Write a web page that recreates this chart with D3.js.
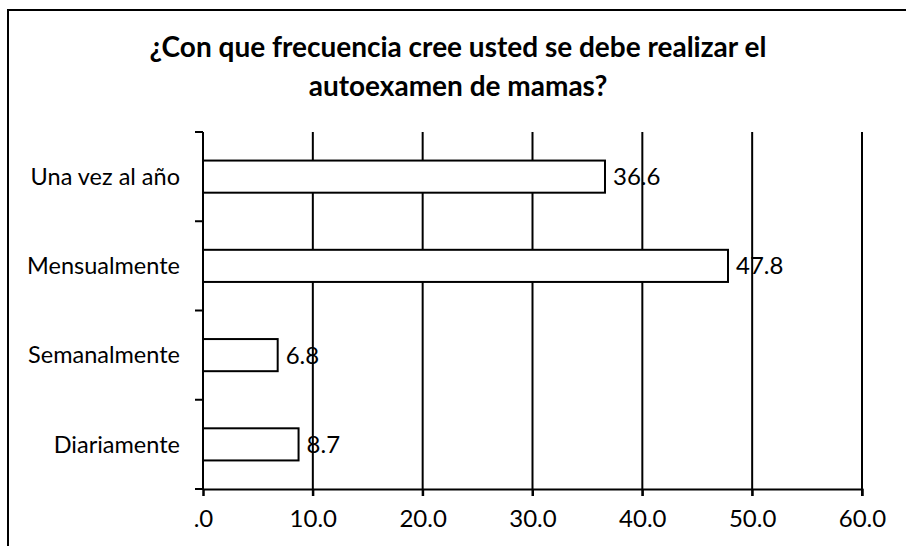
<!DOCTYPE html>
<html>
<head>
<meta charset="utf-8">
<script src="https://cdn.jsdelivr.net/npm/d3@7"></script>
<style>
  body { margin: 0; background: #fff; }
  text { font-family: Lato, "Open Sans", sans-serif; fill: #000; }
</style>
</head>
<body>
<svg id="chart" width="906" height="546"></svg>
<script>
const categories = ['Una vez al año', 'Mensualmente', 'Semanalmente', 'Diariamente']
const values = [36.6, 47.8, 6.8, 8.7]
const xTicks = [0, 10, 20, 30, 40, 50, 60]
const titleLines = ['¿Con que frecuencia cree usted se debe realizar el', 'autoexamen de mamas?']

const svg = d3.select('#chart')
const margin = { left: 203, right: 44, top: 132, bottom: 57 }
const width = 906
const height = 546

// frame of the chart area (only top and left edges are inside the picture)
svg.append('path')
  .attr('d', 'M8,' + height + 'V10H' + width)
  .attr('fill', 'none')
  .attr('stroke', '#000')
  .attr('stroke-width', 2)

svg.append('g').selectAll('text')
  .data(titleLines)
  .join('text')
  .attr('x', 458)
  .attr('y', (d, i) => 57 + i * 39)
  .attr('text-anchor', 'middle')
  .style('font-weight', 'bold')
  .style('font-size', '28px')
  .text(d => d)

const x = d3.scaleLinear().domain([0, 60]).range([margin.left, width - margin.right])
const y = d3.scaleBand().domain(categories).range([margin.top, height - margin.bottom]).paddingInner(0.64).paddingOuter(0.32)

// vertical grid
svg.append('g').selectAll('line')
  .data(xTicks.slice(1))
  .join('line')
  .attr('x1', d => x(d)).attr('x2', d => x(d))
  .attr('y1', margin.top).attr('y2', height - margin.bottom + 7)
  .attr('stroke', '#000').attr('stroke-width', 2)

// x axis
const xAxis = d3.axisBottom(x)
  .tickValues(xTicks)
  .tickSize(7)
  .tickPadding(14)
  .tickFormat(d => d === 0 ? '.0' : d3.format('.1f')(d))
const gx = svg.append('g')
  .attr('transform', 'translate(0,' + (height - margin.bottom) + ')')
  .call(xAxis)
gx.select('.domain').attr('stroke-width', 2)
gx.selectAll('.tick line').attr('stroke-width', 2)
gx.selectAll('text').style('font-size', '24px').style('font-family', 'Lato, sans-serif').attr('fill', '#000')

// y axis with ticks between categories
const yEdges = d3.range(categories.length + 1).map(i => margin.top + i * (height - margin.bottom - margin.top) / categories.length)
svg.append('line')
  .attr('x1', margin.left).attr('x2', margin.left)
  .attr('y1', margin.top).attr('y2', height - margin.bottom)
  .attr('stroke', '#000').attr('stroke-width', 2)
svg.append('g').selectAll('line')
  .data(yEdges)
  .join('line')
  .attr('x1', margin.left - 8).attr('x2', margin.left)
  .attr('y1', d => d).attr('y2', d => d)
  .attr('stroke', '#000').attr('stroke-width', 2)

svg.append('g').selectAll('text')
  .data(categories)
  .join('text')
  .attr('x', 180)
  .attr('y', d => y(d) + y.bandwidth() / 2)
  .attr('dy', '0.35em')
  .attr('text-anchor', 'end')
  .style('font-size', '23.5px')
  .text(d => d)

// bars
svg.append('g').selectAll('rect')
  .data(values)
  .join('rect')
  .attr('x', x(0))
  .attr('y', (d, i) => y(categories[i]))
  .attr('width', d => x(d) - x(0))
  .attr('height', y.bandwidth())
  .attr('fill', '#fff')
  .attr('stroke', '#000')
  .attr('stroke-width', 2)

svg.append('g').selectAll('text')
  .data(values)
  .join('text')
  .attr('x', d => x(d) + 8)
  .attr('y', (d, i) => y(categories[i]) + y.bandwidth() / 2)
  .attr('dy', '0.35em')
  .style('font-size', '24px')
  .text(d => d3.format('.1f')(d))
</script>
</body>
</html>
